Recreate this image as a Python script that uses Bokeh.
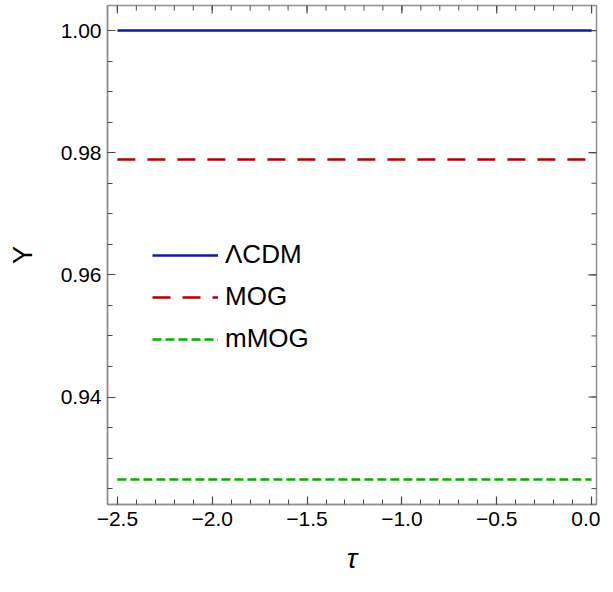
import math
import numpy as np
from bokeh.plotting import figure
from bokeh.models import (LinearAxis, FixedTicker, CustomJSTickFormatter,
                          Range1d, Legend, LegendItem)
from bokeh.embed import file_html
from bokeh.resources import INLINE

# data
tau = [-2.5, 0.0]
y_lcdm = [1.0, 1.0]
y_mog = [0.9789, 0.9789]
y_mmog = [0.9265, 0.9265]
series_names = ["\u039bCDM", "MOG", "mMOG"]
x_label = "\u03c4"
y_label = "Y"

# ticks
x_major = [-2.5, -2.0, -1.5, -1.0, -0.5, 0.0]
y_major = [0.94, 0.96, 0.98, 1.00]
x_minor = [round(v, 2) for v in np.arange(-2.5, 0.001, 0.1)]
y_minor = [round(v, 3) for v in np.arange(0.925, 1.0041, 0.005)]

x_lo, x_hi = -2.552, 0.026
y_lo, y_hi = 0.9224, 1.0041

FONT = "Liberation Sans"
FRAME = "#8f8f8f"
TICK = "#4a4a4a"

p = figure(width=600, height=576, output_backend="svg", toolbar_location=None,
           x_range=Range1d(x_lo, x_hi), y_range=Range1d(y_lo, y_hi),
           min_border_left=107, min_border_right=4, min_border_top=5, min_border_bottom=10,
           x_axis_location=None, y_axis_location=None)
p.grid.visible = False
p.outline_line_color = FRAME
p.outline_line_width = 1.5

xt = FixedTicker(ticks=x_major, minor_ticks=x_minor)
yt = FixedTicker(ticks=y_major, minor_ticks=y_minor)
xf = CustomJSTickFormatter(code="return tick.toFixed(1).replace('-', '\u2212');")
yf = CustomJSTickFormatter(code="return tick.toFixed(2);")

def style(ax):
    ax.axis_line_color = FRAME
    ax.axis_line_width = 1.5
    ax.major_tick_line_color = TICK
    ax.minor_tick_line_color = TICK
    ax.major_tick_line_width = 1.2
    ax.minor_tick_line_width = 1.0
    ax.major_tick_in = 8
    ax.major_tick_out = 0
    ax.minor_tick_in = 5
    ax.minor_tick_out = 0
    ax.major_label_text_font = FONT
    ax.major_label_text_color = "black"
    ax.major_label_text_font_size = "21px"
    ax.axis_label_text_font = FONT
    ax.axis_label_text_color = "black"
    ax.axis_label_text_font_style = "normal"

bottom = LinearAxis(ticker=xt, formatter=xf, axis_label=x_label)
style(bottom)
bottom.major_label_standoff = 7
bottom.axis_label_text_font_size = "28px"
bottom.axis_label_text_font_style = "italic"
bottom.axis_label_standoff = 14
p.add_layout(bottom, "below")

left = LinearAxis(ticker=yt, formatter=yf, axis_label=y_label)
style(left)
left.major_label_standoff = 6
left.axis_label_text_font_size = "27px"
left.axis_label_standoff = 20
p.add_layout(left, "left")

# inward ticks on top and right edges of the frame
deg90 = math.pi / 2
p.ray(x=x_major, y=[y_hi] * len(x_major), length=8, length_units="screen",
      angle=-deg90, line_color=TICK, line_width=1.2)
p.ray(x=x_minor, y=[y_hi] * len(x_minor), length=5, length_units="screen",
      angle=-deg90, line_color=TICK, line_width=1.0)
p.ray(x=[x_hi] * len(y_major), y=y_major, length=8, length_units="screen",
      angle=math.pi, line_color=TICK, line_width=1.2)
p.ray(x=[x_hi] * len(y_minor), y=y_minor, length=5, length_units="screen",
      angle=math.pi, line_color=TICK, line_width=1.0)

r1 = p.line(tau, y_lcdm, line_color="#0c1aa6", line_width=2.5)
r2 = p.line(tau, y_mog, line_color="#b30000", line_width=2.5, line_dash="18 12")
r3 = p.line(tau, y_mmog, line_color="#00b000", line_width=2.5, line_dash="9 4")

legend = Legend(items=[LegendItem(label=series_names[0], renderers=[r1]),
                       LegendItem(label=series_names[1], renderers=[r2]),
                       LegendItem(label=series_names[2], renderers=[r3])],
                location=(45, 150))
legend.glyph_width = 66
legend.glyph_height = 24
legend.label_height = 24
legend.spacing = 11
legend.padding = 10
legend.margin = 0
legend.label_standoff = 7
legend.label_text_font = FONT
legend.label_text_font_size = "26px"
legend.label_text_color = "black"
legend.border_line_color = None
legend.background_fill_alpha = 0
p.add_layout(legend, "center")

open("out.html", "w").write(file_html(p, INLINE))
